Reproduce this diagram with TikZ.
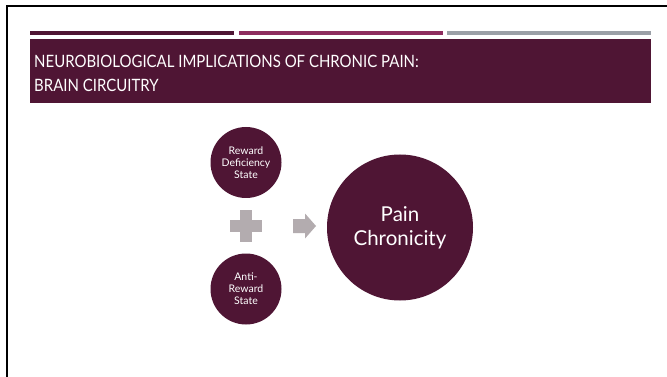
\documentclass[tikz,border=0pt]{standalone}
\usepackage{fontspec}
\setmainfont{Lato}
\definecolor{maroon}{HTML}{4F1534}
\definecolor{berry}{HTML}{8E2D5F}
\definecolor{slate}{HTML}{9BA0A7}
\definecolor{mauvegray}{HTML}{B3ACAF}
\newcommand{\narrow}[1]{\scalebox{0.88}[1]{#1}}
\tikzset{
  topbar/.style={fill=#1},
  bubble/.style={circle, fill=maroon, text=white, inner sep=0pt, align=center},
  smallbubble/.style={bubble, minimum size=71pt, font=\fontsize{10.5}{12}\selectfont},
  bigbubble/.style={bubble, minimum size=146pt, font=\fontsize{20.5}{24}\selectfont},
  titletext/.style={text=white, inner sep=0pt, anchor=base west, font=\fontsize{17}{23}\selectfont},
  symbolfill/.style={fill=mauvegray}
}
\begin{document}
\begin{tikzpicture}[x=1pt, y=-1pt]
\useasboundingbox (0,0) rectangle (667,377);
\fill[white] (0,0) rectangle (667,377);
% slide frame (top and left edges)
\draw[line width=2pt, black] (7,377) -- (7,6) -- (667,6);
% three accent bars
\fill[topbar=maroon] (30,31) rectangle (234,35.5);
\fill[topbar=berry] (239,31) rectangle (443,35.5);
\fill[topbar=slate] (447,31) rectangle (651,35.5);
% title band
\fill[maroon] (30,39) rectangle (651,103);
\node[titletext] (title1) at (34,68) {\narrow{NEUROBIOLOGICAL IMPLICATIONS OF CHRONIC PAIN:}};
\node[titletext] (title2) at (34,92) {\narrow{BRAIN CIRCUITRY}};
% circles
\node[smallbubble] (reward) at (246,162.5) {Reward\\Deficiency\\State};
\node[smallbubble] (anti) at (246,289) {Anti-\\Reward\\State};
\node[bigbubble] (pain) at (400,227.5) {Pain\\Chronicity};
% plus sign
\coordinate (plus) at (245.5,225.5);
\fill[symbolfill] ([shift={(-16,-6)}]plus) rectangle ([shift={(16,6)}]plus);
\fill[symbolfill] ([shift={(-6,-16)}]plus) rectangle ([shift={(6,16)}]plus);
% block arrow
\coordinate (arr) at (293,226);
\fill[symbolfill] ([shift={(0,-7)}]arr) -- ([shift={(12,-7)}]arr) -- ([shift={(12,-12.5)}]arr)
  -- ([shift={(23,0)}]arr) -- ([shift={(12,12.5)}]arr) -- ([shift={(12,7)}]arr)
  -- ([shift={(0,7)}]arr) -- cycle;
\end{tikzpicture}
\end{document}
